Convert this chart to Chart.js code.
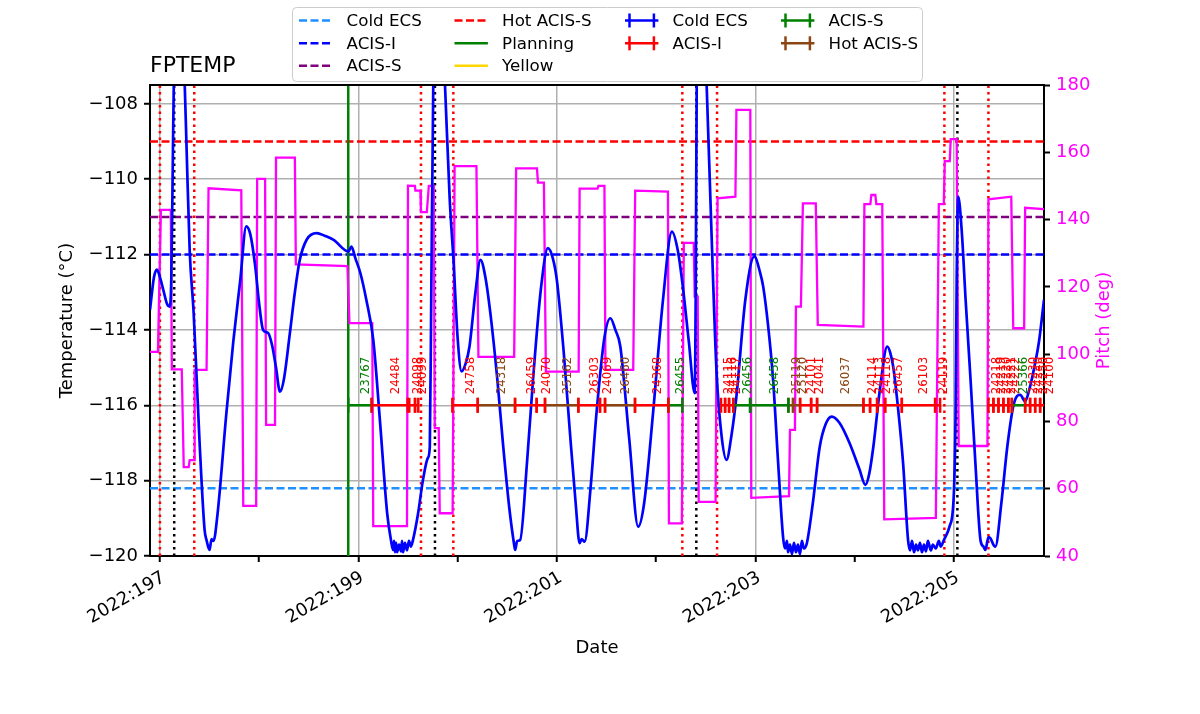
<!DOCTYPE html>
<html lang="en">
<head>
	<title>FPTEMP</title>
	<meta charset="utf-8">
	<script src="https://cdn.jsdelivr.net/npm/chart.js@4.4.0/dist/chart.umd.min.js"></script>
	<style type="text/css">
		body { margin: 0; background: #fff; }
		canvas { display: block; }
	</style>
</head>
<body>
<canvas id="fptemp-canvas" width="1200" height="714"></canvas>
<script type="text/javascript">
	// FPTEMP model, day of year 2022 / deg C
	var tempTimes = [196.90, 196.94, 196.97, 197.00, 197.04, 197.07, 197.10, 197.115, 197.13, 197.145, 197.19, 197.25, 197.27, 197.30, 197.34,
		197.40, 197.45, 197.47, 197.50, 197.52, 197.54, 197.58, 197.67, 197.74, 197.81, 197.87, 197.91, 197.96, 198.00, 198.04,
		198.09, 198.13, 198.17, 198.21, 198.25, 198.31, 198.36, 198.41, 198.48, 198.58, 198.66, 198.75, 198.90, 198.93, 198.97,
		199.02, 199.08, 199.15, 199.22, 199.29, 199.33, 199.35, 199.36, 199.37, 199.38, 199.39, 199.41, 199.43, 199.44, 199.45,
		199.47, 199.49, 199.51, 199.53, 199.55, 199.60, 199.65, 199.70, 199.72, 199.735, 199.755, 199.81, 199.873, 199.92, 199.96,
		200.00, 200.04, 200.08, 200.12, 200.18, 200.23, 200.28, 200.33, 200.40, 200.46, 200.52, 200.57, 200.58, 200.60, 200.63,
		200.70, 200.76, 200.84, 200.91, 200.96, 201.00, 201.07, 201.13, 201.19, 201.23, 201.25, 201.28, 201.34, 201.40, 201.48,
		201.54, 201.59, 201.64, 201.73, 201.82, 201.88, 201.97, 202.07, 202.16, 202.22, 202.27, 202.33, 202.39, 202.40, 202.41,
		202.46, 202.51, 202.56, 202.61, 202.66, 202.71, 202.76, 202.81, 202.90, 202.99, 203.05, 203.08, 203.13, 203.18, 203.23,
		203.28, 203.30, 203.32, 203.33, 203.35, 203.37, 203.39, 203.41, 203.43, 203.45, 203.47, 203.49, 203.52, 203.58, 203.65,
		203.71, 203.77, 203.85, 203.95, 204.05, 204.11, 204.15, 204.19, 204.26, 204.33, 204.36, 204.39, 204.44, 204.49, 204.54,
		204.56, 204.58, 204.60, 204.62, 204.64, 204.66, 204.68, 204.70, 204.72, 204.74, 204.77, 204.79, 204.82, 204.85, 204.87,
		204.90, 204.96, 205.00, 205.02, 205.03, 205.045, 205.08, 205.12, 205.17, 205.22, 205.27, 205.30, 205.32, 205.35, 205.37,
		205.40, 205.42, 205.48, 205.54, 205.60, 205.64, 205.67, 205.72, 205.76, 205.80, 205.86, 205.91];
	var tempValues = [-113.47, -112.6, -112.40, -112.6, -113.0, -113.3, -113.38, -112.6, -109.5, -106.5, -104.5, -107.5, -109.3, -111.9, -113.55,
		-117.0, -119.3, -119.58, -119.84, -119.55, -119.6, -118.9, -116.2, -114.3, -112.67, -111.25, -111.45, -112.3, -113.3, -114.0,
		-114.08, -114.4, -115.0, -115.64, -115.3, -114.08, -113.0, -112.14, -111.6, -111.43, -111.5, -111.61, -111.92, -111.79, -112.1,
		-112.49, -113.2, -114.26, -116.5, -118.86, -119.6, -119.84, -119.6, -119.9, -119.65, -119.9, -119.7, -119.88, -119.6, -119.9,
		-119.65, -119.85, -119.6, -119.75, -119.58, -118.9, -118.0, -117.4, -117.1, -113.0, -107.5, -104.0, -107.5, -110.5, -112.2,
		-114.2, -115.1, -114.9, -114.44, -113.0, -112.14, -112.6, -113.55, -115.3, -117.1, -118.7, -119.7, -119.84, -119.6, -119.58,
		-117.5, -115.33, -112.9, -111.83, -112.1, -112.67, -114.6, -116.65, -118.6, -119.66, -119.55, -119.62, -118.2, -116.2, -114.2,
		-113.69, -114.0, -114.44, -116.9, -119.22, -118.6, -116.2, -113.2, -111.39, -111.9, -112.85, -114.3, -115.68, -113.0, -107.5,
		-104.0, -107.5, -111.5, -115.12, -116.8, -117.45, -116.8, -115.77, -113.2, -112.05, -112.49, -112.85, -113.9, -115.33, -117.5,
		-119.49, -119.8, -119.6, -119.9, -119.7, -119.95, -119.65, -119.9, -119.7, -119.95, -119.6, -119.8, -119.66, -118.6, -117.1,
		-116.5, -116.3, -116.47, -117.0, -117.7, -118.11, -117.8, -117.1, -115.5, -114.44, -114.6, -114.97, -116.1, -117.54, -119.58,
		-119.85, -119.6, -119.9, -119.7, -119.85, -119.65, -119.9, -119.7, -119.88, -119.6, -119.85, -119.7, -119.8, -119.6, -119.75,
		-119.58, -119.2, -118.43, -116.0, -112.67, -110.46, -111.34, -113.2, -115.33, -117.6, -119.58, -119.75, -119.84, -119.5, -119.53,
		-119.7, -119.75, -118.6, -117.1, -116.03, -115.75, -115.72, -115.9, -115.6, -115.15, -114.3, -113.2];

	// pitch angle, deg
	var pitchTimes = [196.90, 196.98, 197.01, 197.11, 197.12, 197.22, 197.24, 197.29, 197.30, 197.345, 197.35, 197.47, 197.49, 197.82, 197.84,
		197.97, 197.98, 198.06, 198.07, 198.16, 198.17, 198.36, 198.37, 198.89, 198.91, 199.14, 199.15, 199.49, 199.50, 199.57,
		199.575, 199.625, 199.63, 199.69, 199.71, 199.76, 199.77, 199.81, 199.82, 199.95, 199.97, 200.19, 200.21, 200.57, 200.59,
		200.80, 200.81, 200.87, 200.89, 201.22, 201.23, 201.41, 201.42, 201.48, 201.49, 201.77, 201.79, 202.12, 202.13, 202.26,
		202.28, 202.38, 202.39, 202.42, 202.43, 202.60, 202.62, 202.80, 202.81, 202.95, 202.96, 203.34, 203.35, 203.40, 203.41,
		203.46, 203.48, 203.61, 203.63, 204.09, 204.10, 204.16, 204.17, 204.21, 204.22, 204.28, 204.30, 204.82, 204.85, 204.90,
		204.91, 204.96, 204.97, 205.03, 205.05, 205.34, 205.35, 205.58, 205.60, 205.71, 205.72, 205.91];
	var pitchValues = [100.7, 100.7, 142.9, 142.9, 95.5, 95.5, 66.4, 66.4, 68.5, 68.5, 95.3, 95.3, 149.3, 148.7, 54.9,
		54.9, 152.1, 152.1, 79.0, 79.0, 158.4, 158.4, 126.7, 126.2, 109.2, 109.2, 48.9, 48.9, 150.1, 150.0,
		148.6, 148.6, 142.2, 142.2, 150.0, 150.0, 78.0, 78.0, 52.7, 52.7, 155.9, 155.9, 99.2, 99.2, 155.2,
		155.2, 151.0, 151.0, 94.8, 94.8, 149.2, 149.2, 150.0, 150.0, 95.3, 95.3, 148.6, 148.3, 49.7, 49.7,
		133.1, 133.1, 117.1, 117.1, 56.1, 56.1, 146.3, 146.8, 172.6, 172.6, 57.3, 57.8, 77.5, 77.5, 114.1,
		114.1, 144.8, 144.8, 108.7, 108.2, 144.6, 144.6, 147.3, 147.3, 144.6, 144.6, 50.9, 51.3, 144.6, 144.6,
		157.4, 157.4, 163.9, 163.9, 72.7, 72.7, 146.0, 146.8, 107.7, 107.7, 143.5, 143.1];

	// obsids drawn along the -116 row
	var obsStarts = [198.898, 199.134, 199.513, 199.571, 199.947, 200.203, 200.579, 200.797, 200.881, 201.217,
		201.435, 201.486, 201.788, 202.124, 202.655, 202.696, 202.736, 202.779, 202.948, 203.334,
		203.381, 203.452, 203.563, 203.623, 204.090, 204.157, 204.228, 204.309, 204.477, 204.813,
		205.350, 205.400, 205.451, 205.501, 205.551, 205.586, 205.720, 205.770, 205.821, 205.871];
	var obsStops = [199.134, 199.497, 199.571, 199.604, 200.203, 200.579, 200.797, 200.881, 201.217, 201.435,
		201.486, 201.788, 202.124, 202.265, 202.696, 202.736, 202.779, 202.948, 203.334, 203.381,
		203.452, 203.563, 203.623, 204.090, 204.157, 204.228, 204.309, 204.477, 204.813, 204.863,
		205.400, 205.451, 205.501, 205.551, 205.586, 205.720, 205.770, 205.821, 205.871, 205.950];
	var obsIds = ["23767", "24484", "24098", "24099", "24758", "24318", "26459", "24070", "25162", "26303",
		"24069", "26460", "24368", "26455", "24115", "24116", "24117", "26456", "26458", "25119",
		"25120", "24101", "24041", "26037", "24114", "24113", "24118", "26457", "26103", "24119",
		"24218", "24219", "24220", "24221", "24222", "25366", "24230", "24240", "24250", "24100"];
	var obsModes = ["ACIS-S", "ACIS-I", "ACIS-I", "ACIS-I", "ACIS-I", "Hot ACIS-S", "ACIS-I", "ACIS-I", "Hot ACIS-S", "ACIS-I",
		"ACIS-I", "Hot ACIS-S", "ACIS-I", "ACIS-S", "ACIS-I", "ACIS-I", "ACIS-I", "ACIS-S", "ACIS-S", "Hot ACIS-S",
		"Hot ACIS-S", "ACIS-I", "ACIS-I", "Hot ACIS-S", "ACIS-I", "ACIS-I", "ACIS-I", "ACIS-I", "ACIS-I", "ACIS-I",
		"ACIS-I", "ACIS-I", "ACIS-I", "ACIS-I", "ACIS-I", "ACIS-S", "ACIS-I", "ACIS-I", "ACIS-I", "ACIS-I"];
	var obsRowValue = -116;

	// limits and event lines
	var limitNames = ["Cold ECS", "ACIS-I", "ACIS-S", "Hot ACIS-S"];
	var limitValues = [-118.2, -112.0, -111.0, -109.0];
	var planningTime = 198.898;
	var redDotTimes = [197.000, 197.346, 199.631, 199.957, 202.265, 202.615, 204.906, 205.350];
	var blackDotTimes = [197.144, 199.772, 202.406, 205.037];

	var xMin = 196.9, xMax = 205.91, yMin = -120, yMax = -107.5;

	var limitColors = ["#1e90ff", "#0000ff", "#800080", "#ff0000"];
	var modeNames = ["Cold ECS", "ACIS-I", "ACIS-S", "Hot ACIS-S"];
	var modeColors = {"Cold ECS": "#0000ff", "ACIS-I": "#ff0000", "ACIS-S": "#008000", "Hot ACIS-S": "#8b4513"};
	var dashed = [8, 3.5];
	var dotted = [2.5, 4];

	Chart.defaults.font.family = '"DejaVu Sans"';

	function xy(xs, ys) {
		var pts = [];
		for (var i = 0; i < xs.length; i++) pts.push({x: xs[i], y: ys[i]});
		return pts;
	}

	function verticalLines(times) {
		var pts = [];
		times.forEach(function(t) {
			pts.push({x: t, y: yMin}, {x: t, y: yMax}, {x: t, y: null});
		});
		return pts;
	}

	var datasets = [];

	// obsid bars, one dataset per mode, gaps between obsids
	modeNames.forEach(function(mode, k) {
		var pts = [];
		for (var i = 0; i < obsIds.length; i++) {
			if (obsModes[i] != mode) continue;
			pts.push({x: obsStarts[i], y: obsRowValue}, {x: obsStops[i], y: obsRowValue}, {x: obsStops[i], y: null});
		}
		datasets.push({
			label: mode, legendIndex: 6 + k, legendBar: true, order: 1,
			data: pts, borderColor: modeColors[mode], borderWidth: 2.5,
			pointStyle: "line", pointRotation: 90, pointRadius: 7.5,
			pointBorderColor: modeColors[mode], pointBorderWidth: 2.5, spanGaps: false
		});
	});

	datasets.push({
		label: "FPTEMP", order: 2, data: xy(tempTimes, tempValues),
		borderColor: "#0000ff", borderWidth: 2.7, pointRadius: 0, cubicInterpolationMode: "monotone"
	});
	datasets.push({
		label: "Pitch", order: 3, yAxisID: "y2", data: xy(pitchTimes, pitchValues),
		borderColor: "#ff00ff", borderWidth: 2.3, pointRadius: 0
	});
	datasets.push({
		label: "events", order: 4, data: verticalLines(redDotTimes),
		borderColor: "#ff0000", borderWidth: 2.5, borderDash: dotted, pointRadius: 0, spanGaps: false
	});
	datasets.push({
		label: "radzones", order: 4, data: verticalLines(blackDotTimes),
		borderColor: "#000000", borderWidth: 2.5, borderDash: dotted, pointRadius: 0, spanGaps: false
	});
	datasets.push({
		label: "Planning", legendIndex: 4, order: 4, data: verticalLines([planningTime]),
		borderColor: "#008000", borderWidth: 2.5, pointRadius: 0, spanGaps: false
	});
	datasets.push({
		label: "Yellow", legendIndex: 5, order: 4, data: [],
		borderColor: "#ffd700", borderWidth: 2.5, pointRadius: 0
	});
	limitNames.forEach(function(name, k) {
		datasets.push({
			label: name, legendIndex: k, order: 5,
			data: [{x: xMin, y: limitValues[k]}, {x: xMax, y: limitValues[k]}],
			borderColor: limitColors[k], borderWidth: 2.5, borderDash: dashed, pointRadius: 0
		});
	});

	// obsid numbers, rotated, starting at the middle of each obsid
	var obsLabels = {
		id: "obsLabels",
		afterDatasetsDraw: function(chart) {
			var ctx = chart.ctx, xs = chart.scales.x, ys = chart.scales.y;
			ctx.save();
			ctx.font = '11.8px "DejaVu Sans"';
			ctx.textAlign = "left";
			ctx.textBaseline = "top";
			for (var i = 0; i < obsIds.length; i++) {
				var px = xs.getPixelForValue((obsStarts[i] + obsStops[i]) / 2);
				var py = ys.getPixelForValue(obsRowValue + 0.29);
				ctx.save();
				ctx.translate(px, py);
				ctx.rotate(-Math.PI / 2);
				ctx.fillStyle = modeColors[obsModes[i]];
				ctx.fillText(obsIds[i], 0, 0);
				ctx.restore();
			}
			ctx.restore();
		}
	};

	// top spine, plot title, right axis title
	var extras = {
		id: "extras",
		afterDraw: function(chart) {
			var ctx = chart.ctx, a = chart.chartArea;
			ctx.save();
			ctx.strokeStyle = "#000";
			ctx.lineWidth = 2;
			ctx.beginPath();
			ctx.moveTo(a.left - 1, a.top);
			ctx.lineTo(a.right + 1, a.top);
			ctx.stroke();

			ctx.fillStyle = "#000";
			ctx.font = '22px "DejaVu Sans"';
			ctx.textAlign = "left";
			ctx.textBaseline = "alphabetic";
			ctx.fillText("FPTEMP", a.left, 72);

			ctx.translate(1104, (a.top + a.bottom) / 2);
			ctx.rotate(-Math.PI / 2);
			ctx.fillStyle = "#ff00ff";
			ctx.font = '18px "DejaVu Sans"';
			ctx.textAlign = "center";
			ctx.textBaseline = "middle";
			ctx.fillText("Pitch (deg)", 0, 0);
			ctx.restore();
		}
	};

	// legend laid out in columns, filled top to bottom
	var columnLegend = {
		id: "columnLegend",
		afterDraw: function(chart) {
			var ctx = chart.ctx;
			var items = chart.data.datasets.filter(function(d) { return d.legendIndex !== undefined; })
				.sort(function(a, b) { return a.legendIndex - b.legendIndex; });
			var left = 292.5, top = 7.5, right = 922.5, bottom = 81.5, r = 4;
			var colX = [299, 454.5, 625, 781];
			var rowY = [20.5, 43.3, 65.8];
			var perCol = [3, 3, 2, 2];

			ctx.save();
			ctx.beginPath();
			ctx.moveTo(left + r, top);
			ctx.arcTo(right, top, right, bottom, r);
			ctx.arcTo(right, bottom, left, bottom, r);
			ctx.arcTo(left, bottom, left, top, r);
			ctx.arcTo(left, top, right, top, r);
			ctx.closePath();
			ctx.fillStyle = "rgba(255,255,255,0.8)";
			ctx.fill();
			ctx.strokeStyle = "#cccccc";
			ctx.lineWidth = 1;
			ctx.stroke();

			var col = 0, row = 0;
			items.forEach(function(d) {
				var x0 = colX[col], y0 = rowY[row], len = 33.4;
				ctx.strokeStyle = d.borderColor;
				ctx.lineWidth = 2.5;
				ctx.setLineDash(d.borderDash || []);
				ctx.beginPath();
				ctx.moveTo(x0, y0);
				ctx.lineTo(x0 + len, y0);
				ctx.stroke();
				ctx.setLineDash([]);
				if (d.legendBar) {
					[x0 + 4.5, x0 + len - 4.5].forEach(function(cx) {
						ctx.beginPath();
						ctx.moveTo(cx, y0 - 7);
						ctx.lineTo(cx, y0 + 7);
						ctx.stroke();
					});
				}
				ctx.fillStyle = "#000";
				ctx.font = '16.7px "DejaVu Sans"';
				ctx.textAlign = "left";
				ctx.textBaseline = "middle";
				ctx.fillText(d.label, x0 + 47.6, y0 + 1);
				row++;
				if (row >= perCol[col]) { row = 0; col++; }
			});
			ctx.restore();
		}
	};

	function minusLabel(v) {
		return (v < 0 ? "\u2212" : "") + Math.abs(v);
	}

	var ctx = document.getElementById("fptemp-canvas").getContext("2d");
	var chart = new Chart(ctx, {
		type: "line",
		data: {datasets: datasets},
		plugins: [obsLabels, extras, columnLegend],
		options: {
			responsive: false,
			animation: false,
			devicePixelRatio: 1,
			layout: {padding: {top: 85, left: 0, right: 0, bottom: 0}},
			plugins: {
				legend: {display: false},
				title: {display: false},
				tooltip: {enabled: false}
			},
			scales: {
				x: {
					type: "linear", min: xMin, max: xMax,
					afterFit: function(scale) { scale.height = 158; },
					border: {color: "#000", width: 2},
					grid: {
						color: function(c) { return (c.tick && c.tick.value % 2 === 1) ? "#b0b0b0" : "rgba(0,0,0,0)"; },
						lineWidth: 1.5, tickColor: "#000", tickLength: 6, tickWidth: 2
					},
					ticks: {
						stepSize: 1, includeBounds: false, autoSkip: false,
						minRotation: 30, maxRotation: 30, padding: 5, labelOffset: 4,
						color: "#000", font: {size: 18},
						callback: function(v) { return v % 2 === 1 ? "2022:" + v : ""; }
					},
					title: {display: true, text: "Date", color: "#000", font: {size: 18}, padding: {top: 0, bottom: 55}}
				},
				y: {
					position: "left", min: yMin, max: yMax,
					afterFit: function(scale) { scale.width = 150; },
					border: {color: "#000", width: 2},
					grid: {color: "#b0b0b0", lineWidth: 1.5, tickColor: "#000", tickLength: 6, tickWidth: 2},
					ticks: {stepSize: 2, includeBounds: false, padding: 6, color: "#000", font: {size: 18}, callback: minusLabel},
					title: {display: true, text: "Temperature (°C)", color: "#000", font: {size: 18}, padding: {top: 57, bottom: 0}}
				},
				y2: {
					position: "right", min: 40, max: 180,
					afterFit: function(scale) { scale.width = 156; },
					border: {color: "#000", width: 2},
					grid: {drawOnChartArea: false, tickColor: "#000", tickLength: 6, tickWidth: 2},
					ticks: {stepSize: 20, includeBounds: false, padding: 6, color: "#ff00ff", font: {size: 18}}
				}
			}
		}
	});
</script>
</body>
</html>
